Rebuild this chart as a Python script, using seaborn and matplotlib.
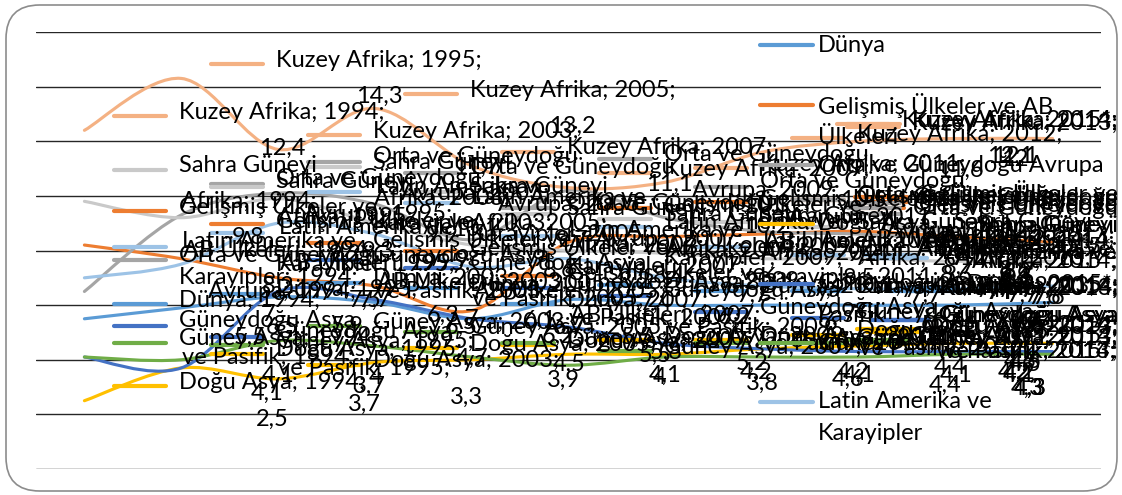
import numpy as np
import pandas as pd
import matplotlib
matplotlib.use('Agg')
import matplotlib.pyplot as plt
import seaborn as sns
from matplotlib.path import Path
from matplotlib.patches import PathPatch, FancyBboxPatch
from matplotlib.lines import Line2D
from matplotlib.transforms import IdentityTransform

# Kategoriler (yıllar)
years = ['1994', '1995', '2003', '2005', '2007', '2009', '2011', '2012', '2013', '2014', '2015*']

# İşsizlik oranları (%)
dunya = [5.5, 5.9, 6.3, 6.1, 5.5, 6.2, 6.0, 6.0, 6.0, 6.0, 6.1]
gelismis = [8.2, 7.7, 7.0, 6.7, 5.8, 8.3, 8.5, 8.6, 8.7, 8.5, 8.3]
orta_gd_avrupa = [6.5, 9.3, 10.1, 9.7, 8.4, 10.2, 9.2, 8.7, 8.6, 8.4, 8.2]
dogu_asya = [2.5, 3.7, 3.3, 3.9, 4.0, 4.2, 4.2, 4.4, 4.5, 4.6, 4.6]
gd_asya_pasifik = [4.1, 3.7, 6.5, 6.2, 5.5, 5.2, 4.6, 4.4, 4.3, 4.3, 4.3]
guney_asya = [4.1, 4.0, 4.7, 4.5, 4.1, 3.8, 4.1, 4.1, 4.1, 4.2, 4.2]
latin_amerika = [7.0, 7.5, 9.0, 8.6, 7.4, 7.7, 7.0, 6.7, 6.6, 6.6, 6.7]
kuzey_afrika = [12.4, 14.3, 11.7, 13.2, 11.1, 10.3, 10.5, 11.6, 12.0, 12.1, 12.1]
sahra_guneyi = [9.8, 9.2, 9.9, 9.0, 8.2, 8.0, 7.9, 7.7, 7.7, 7.6, 7.6]

series_names = ['Dünya', 'Gelişmiş Ülkeler ve AB Ülkeleri', 'Orta ve Güneydoğu Avrupa',
                'Doğu Asya', 'Güneydoğu Asya ve Pasifik', 'Güney Asya',
                'Latin Amerika ve Karayipler', 'Kuzey Afrika', 'Sahra Güneyi Afrika']
series_values = [dunya, gelismis, orta_gd_avrupa, dogu_asya, gd_asya_pasifik,
                 guney_asya, latin_amerika, kuzey_afrika, sahra_guneyi]
colors = ['#5B9BD5', '#ED7D31', '#A5A5A5', '#FFC000', '#4472C4', '#70AD47',
          '#9DC3E6', '#F4B183', '#C9C9C9']

# etiketlerde kullanılan satır kırılımları
label_names = ['Dünya', 'Gelişmiş Ülkeler ve\nAB Ülkeleri', 'Orta ve Güneydoğu\nAvrupa',
               'Doğu Asya', 'Güneydoğu Asya\nve Pasifik', 'Güney Asya',
               'Latin Amerika ve\nKarayipler', 'Kuzey Afrika', 'Sahra Güneyi\nAfrika']
legend_names = ['Dünya', 'Gelişmiş Ülkeler ve AB\nÜlkeleri', 'Orta ve Güneydoğu Avrupa',
                'Doğu Asya', 'Güneydoğu Asya ve\nPasifik', 'Güney Asya',
                'Latin Amerika ve\nKarayipler']

rows = []
for name, vals in zip(series_names, series_values):
    for i, v in enumerate(vals):
        rows.append({'x': i, 'yil': years[i], 'seri': name, 'oran': v})
df = pd.DataFrame(rows)

sns.set_theme(style='white')
plt.rcParams['font.family'] = ['Lato', 'DejaVu Sans']

W, H = 1122, 495
fig = plt.figure(figsize=(W / 100, H / 100), dpi=100)
fig.patch.set_facecolor('white')
ax = fig.add_axes([36 / W, 26 / H, 1065 / W, 437 / H])

sns.lineplot(data=df, x='x', y='oran', hue='seri', hue_order=series_names,
             palette=dict(zip(series_names, colors)), legend=False, ax=ax,
             linewidth=2.25, sort=False)

ax.set_xlim(-0.5, len(years) - 0.5)
ax.set_ylim(0, 16)
ax.set_yticks(range(0, 17, 2))
ax.set_yticklabels([])
ax.set_xticks([])
ax.set_xlabel('')
ax.set_ylabel('')
ax.tick_params(length=0)
ax.yaxis.grid(True, color='#262626', linewidth=1.0)
for sp in ax.spines.values():
    sp.set_visible(False)


# Excel tarzı yumuşatılmış çizgiler
def smooth_path(xs, ys):
    pts = np.column_stack([xs, ys])
    verts = [pts[0]]
    codes = [Path.MOVETO]
    n = len(pts)
    for k in range(n - 1):
        p0 = pts[k - 1] if k > 0 else pts[k]
        p1 = pts[k]
        p2 = pts[k + 1]
        p3 = pts[k + 2] if k + 2 < n else pts[k + 1]
        c1 = p1 + (p2 - p0) / 6
        c2 = p2 - (p3 - p1) / 6
        verts += [c1, c2, p2]
        codes += [Path.CURVE4] * 3
    return Path(verts, codes)


for line in list(ax.lines):
    xs, ys = line.get_xdata(), line.get_ydata()
    if len(xs) < 2:
        continue
    patch = PathPatch(smooth_path(np.asarray(xs, float), np.asarray(ys, float)),
                      fill=False, edgecolor=line.get_color(), linewidth=2.25,
                      capstyle='round', zorder=2)
    ax.add_patch(patch)
    line.remove()

# grafik alanı çerçevesi
frame = FancyBboxPatch((6 / W, 4 / H), 1111 / W, 486 / H,
                       boxstyle='round,pad=0,rounding_size=0.03',
                       transform=fig.transFigure, facecolor='none',
                       edgecolor='#8c8c8c', linewidth=1.2,
                       mutation_aspect=W / H)
fig.add_artist(frame)

fs = 17
lsp = 1.9
fig.canvas.draw()
renderer = fig.canvas.get_renderer()

# veri etiketleri (seri adı; yıl; değer) + gösterge anahtarı
for name, lname, vals, col in zip(series_names, label_names, series_values, colors):
    for i, v in enumerate(vals):
        px, py = ax.transData.transform((i, v))
        val = f'{v:g}'.replace('.', ',')
        txt = f'{lname}; {years[i]};\n{val}'
        nl = txt.count('\n') + 1
        t = fig.text(px + 95, py, txt, transform=IdentityTransform(), fontsize=fs,
                     ha='left', va='center', multialignment='center',
                     linespacing=lsp, color='black', zorder=5)
        bb = t.get_window_extent(renderer)
        line_h = bb.height / nl
        dx = 0
        if bb.x1 > W - 4:
            dx = bb.x1 - (W - 4)
        t.set_x(px + 95 - dx)
        ky = bb.y1 - line_h / 2
        key = Line2D([px + 30 - dx, px + 82 - dx], [ky, ky], color=col, linewidth=3,
                     transform=IdentityTransform(), zorder=5)
        fig.add_artist(key)

# gösterge (sağ tarafta)
leg_top = [45, 105, 165, 224, 284, 343, 402]
for name, col, ytop in zip(legend_names, colors, leg_top):
    yy = H - ytop
    fig.add_artist(Line2D([760, 813], [yy, yy], color=col, linewidth=3,
                          transform=IdentityTransform(), zorder=6))
    for k, part in enumerate(name.split('\n')):
        fig.text(818, yy - k * 32, part, transform=IdentityTransform(), fontsize=fs,
                 ha='left', va='center', color='black', zorder=6)

fig.savefig('out.png', dpi=100, facecolor='white')
